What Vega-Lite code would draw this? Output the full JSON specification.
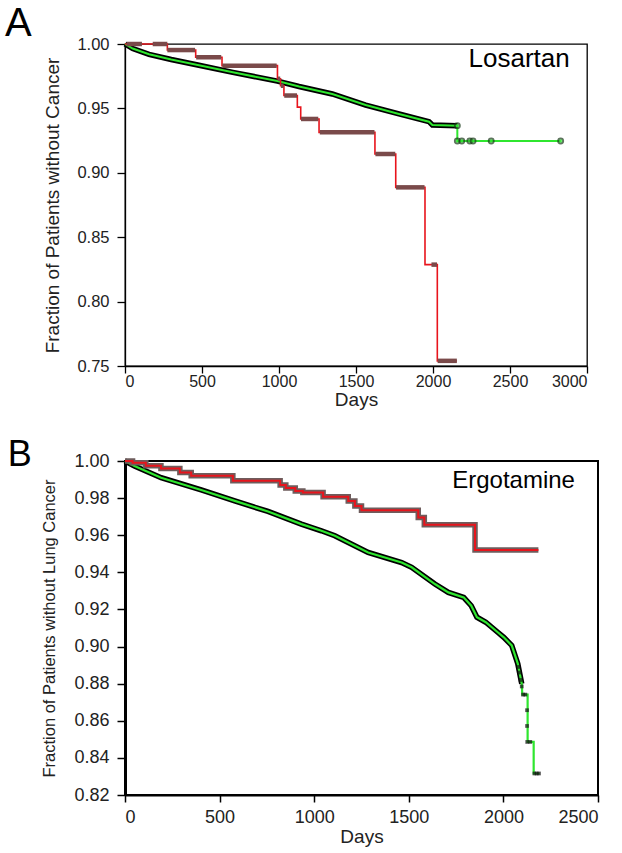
{
  "$schema": "https://vega.github.io/schema/vega-lite/v6.json",
  "background": "white",
  "padding": {"left": 4, "top": 3, "right": 5, "bottom": 5},
  "spacing": 26,
  "config": {
    "font": "Liberation Sans",
    "view": {"stroke": "black", "strokeWidth": 1.3},
    "axis": {"grid": false, "domainColor": "black", "tickColor": "black", "labelColor": "#222222", "titleColor": "#222222", "titleFontWeight": "normal", "labelFont": "Liberation Sans", "titleFont": "Liberation Sans"}
  },
  "datasets": {
    "greenA": [
      {"i": 0, "day": 0, "v": 1.0},
      {"i": 1, "day": 50, "v": 0.9965},
      {"i": 2, "day": 156, "v": 0.992},
      {"i": 3, "day": 300, "v": 0.988},
      {"i": 4, "day": 480, "v": 0.9835},
      {"i": 5, "day": 700, "v": 0.978},
      {"i": 6, "day": 990, "v": 0.9712},
      {"i": 7, "day": 1130, "v": 0.967},
      {"i": 8, "day": 1346, "v": 0.9612},
      {"i": 9, "day": 1563, "v": 0.9526},
      {"i": 10, "day": 1779, "v": 0.9457},
      {"i": 11, "day": 1974, "v": 0.9397},
      {"i": 12, "day": 1996, "v": 0.9371},
      {"i": 13, "day": 2158, "v": 0.9366},
      {"i": 14, "day": 2158, "v": 0.9247},
      {"i": 15, "day": 2829, "v": 0.9247}
    ],
    "greenAcensor": [
      {"day": 2158, "v": 0.9366},
      {"day": 2158, "v": 0.9247},
      {"day": 2187, "v": 0.9247},
      {"day": 2239, "v": 0.9247},
      {"day": 2260, "v": 0.9247},
      {"day": 2378, "v": 0.9247},
      {"day": 2829, "v": 0.9247}
    ],
    "redA": [
      {"day": 0, "v": 1.0},
      {"day": 275, "v": 0.9953},
      {"day": 459, "v": 0.9897},
      {"day": 630, "v": 0.9832},
      {"day": 990, "v": 0.973},
      {"day": 1010, "v": 0.9676},
      {"day": 1032, "v": 0.96},
      {"day": 1119, "v": 0.951},
      {"day": 1141, "v": 0.9418},
      {"day": 1260, "v": 0.9314},
      {"day": 1623, "v": 0.9146},
      {"day": 1758, "v": 0.8887},
      {"day": 1948, "v": 0.8287},
      {"day": 2028, "v": 0.754},
      {"day": 2155, "v": 0.754}
    ],
    "redAcensor": [
      {"d1": 10, "d2": 110, "v": 1.0},
      {"d1": 180, "d2": 275, "v": 1.0},
      {"d1": 275, "d2": 455, "v": 0.9953},
      {"d1": 462, "d2": 625, "v": 0.9897},
      {"d1": 632, "d2": 985, "v": 0.9832},
      {"d1": 992, "d2": 1008, "v": 0.973},
      {"d1": 1012, "d2": 1030, "v": 0.9676},
      {"d1": 1034, "d2": 1117, "v": 0.96},
      {"d1": 1143, "d2": 1255, "v": 0.9418},
      {"d1": 1265, "d2": 1620, "v": 0.9314},
      {"d1": 1626, "d2": 1755, "v": 0.9146},
      {"d1": 1760, "d2": 1945, "v": 0.8887},
      {"d1": 1990, "d2": 2026, "v": 0.8287},
      {"d1": 2030, "d2": 2155, "v": 0.754}
    ],
    "greenB": [
      {"i": 0, "day": 0, "v": 1.0},
      {"i": 1, "day": 50, "v": 0.9973},
      {"i": 2, "day": 191, "v": 0.991},
      {"i": 3, "day": 403, "v": 0.9844},
      {"i": 4, "day": 580, "v": 0.9785},
      {"i": 5, "day": 756, "v": 0.9728},
      {"i": 6, "day": 932, "v": 0.966},
      {"i": 7, "day": 1038, "v": 0.9624},
      {"i": 8, "day": 1109, "v": 0.9597},
      {"i": 9, "day": 1285, "v": 0.9507},
      {"i": 10, "day": 1462, "v": 0.9453},
      {"i": 11, "day": 1515, "v": 0.9427},
      {"i": 12, "day": 1638, "v": 0.9337},
      {"i": 13, "day": 1709, "v": 0.9292},
      {"i": 14, "day": 1790, "v": 0.9265},
      {"i": 15, "day": 1830, "v": 0.922},
      {"i": 16, "day": 1860, "v": 0.9158},
      {"i": 17, "day": 1907, "v": 0.9131},
      {"i": 18, "day": 1970, "v": 0.9077},
      {"i": 19, "day": 2002, "v": 0.905},
      {"i": 20, "day": 2044, "v": 0.9006},
      {"i": 21, "day": 2076, "v": 0.8908},
      {"i": 22, "day": 2097, "v": 0.88},
      {"i": 23, "day": 2100, "v": 0.8741},
      {"i": 24, "day": 2128, "v": 0.8741},
      {"i": 25, "day": 2128, "v": 0.8486},
      {"i": 26, "day": 2160, "v": 0.8486},
      {"i": 27, "day": 2160, "v": 0.8316},
      {"i": 28, "day": 2191, "v": 0.8316}
    ],
    "greenBcensor": [
      {"day": 2080, "v": 0.889},
      {"day": 2086, "v": 0.886},
      {"day": 2091, "v": 0.882},
      {"day": 2097, "v": 0.8785},
      {"day": 2104, "v": 0.8741},
      {"day": 2116, "v": 0.8741},
      {"day": 2125, "v": 0.8657},
      {"day": 2125, "v": 0.8572},
      {"day": 2126, "v": 0.8486},
      {"day": 2142, "v": 0.8486},
      {"day": 2164, "v": 0.8316},
      {"day": 2176, "v": 0.8316},
      {"day": 2188, "v": 0.8316}
    ],
    "redB": [
      {"day": 0, "v": 1.0},
      {"day": 40, "v": 0.9991},
      {"day": 110, "v": 0.9975},
      {"day": 190, "v": 0.996},
      {"day": 290, "v": 0.9938},
      {"day": 350, "v": 0.992},
      {"day": 570, "v": 0.9893},
      {"day": 820, "v": 0.987},
      {"day": 850, "v": 0.9855},
      {"day": 900, "v": 0.9838},
      {"day": 940, "v": 0.983},
      {"day": 1047, "v": 0.9807},
      {"day": 1180, "v": 0.9785},
      {"day": 1215, "v": 0.9758},
      {"day": 1250, "v": 0.9735},
      {"day": 1550, "v": 0.9695},
      {"day": 1582, "v": 0.9656},
      {"day": 1850, "v": 0.952},
      {"day": 2185, "v": 0.952}
    ]
  },
  "vconcat": [
    {
      "width": 462,
      "height": 322,
      "encoding": {
        "x": {"type": "quantitative", "scale": {"domain": [0, 3000], "nice": false}, "axis": {"title": "Days", "values": [0, 500, 1000, 1500, 2000, 2500, 3000], "format": "d", "labelFontSize": 16, "titleFontSize": 19, "tickSize": 7, "domainWidth": 1.3, "tickWidth": 1.3, "labelPadding": 0, "titlePadding": 1}},
        "y": {"type": "quantitative", "scale": {"domain": [0.75, 1.0], "nice": false, "zero": false}, "axis": {"title": "Fraction of Patients without Cancer", "values": [0.75, 0.8, 0.85, 0.9, 0.95, 1.0], "format": ".2f", "labelFontSize": 16.5, "titleFontSize": 19, "tickSize": 8, "domainWidth": 1.3, "tickWidth": 1.3, "labelPadding": 8, "titlePadding": 14}}
      },
      "layer": [
        {"data": {"name": "greenA"}, "transform": [{"filter": "datum.v > 0.93"}], "mark": {"type": "line", "color": "black", "strokeWidth": 5.5, "interpolate": "linear"}, "encoding": {"x": {"field": "day"}, "y": {"field": "v"}, "order": {"field": "i"}}},
        {"data": {"name": "greenA"}, "mark": {"type": "line", "color": "#2fe62f", "strokeWidth": 2, "interpolate": "linear"}, "encoding": {"x": {"field": "day"}, "y": {"field": "v"}, "order": {"field": "i"}}},
        {"data": {"name": "redA"}, "mark": {"type": "line", "color": "#e8141c", "strokeWidth": 1.6, "interpolate": "step-after"}, "encoding": {"x": {"field": "day"}, "y": {"field": "v"}}},
        {"data": {"name": "redAcensor"}, "mark": {"type": "rule", "color": "#7a4a4a", "strokeWidth": 4.5}, "encoding": {"x": {"field": "d1"}, "x2": {"field": "d2"}, "y": {"field": "v"}}},
        {"data": {"name": "greenAcensor"}, "mark": {"type": "point", "shape": "circle", "filled": true, "color": "#2fe62f", "stroke": "#1a3a1a", "strokeWidth": 1.8, "size": 26}, "encoding": {"x": {"field": "day"}, "y": {"field": "v"}}},
        {"data": {"values": [{}]}, "mark": {"type": "text", "text": "Losartan", "fontSize": 26, "align": "right", "baseline": "alphabetic", "color": "black"}, "encoding": {"x": {"datum": 2888}, "y": {"datum": 0.9821}}},
        {"data": {"values": [{}]}, "mark": {"type": "text", "text": "A", "fontSize": 40, "align": "left", "baseline": "alphabetic", "color": "black"}, "encoding": {"x": {"datum": -779}, "y": {"datum": 1.0062}}}
      ]
    },
    {
      "width": 473,
      "height": 334,
      "view": {"stroke": "black", "strokeWidth": 2},
      "encoding": {
        "x": {"type": "quantitative", "scale": {"domain": [0, 2500], "nice": false}, "axis": {"title": "Days", "values": [0, 500, 1000, 1500, 2000, 2500], "format": "d", "labelFontSize": 18, "titleFontSize": 19, "tickSize": 7, "domainWidth": 2, "tickWidth": 1.5, "labelPadding": 6, "titlePadding": 1}},
        "y": {"type": "quantitative", "scale": {"domain": [0.82, 1.0], "nice": false, "zero": false}, "axis": {"title": "Fraction of Patients without Lung Cancer", "values": [0.82, 0.84, 0.86, 0.88, 0.9, 0.92, 0.94, 0.96, 0.98, 1.0], "format": ".2f", "labelFontSize": 18, "titleFontSize": 16.5, "tickSize": 8, "domainWidth": 3, "tickWidth": 1.5, "labelPadding": 8, "titlePadding": 16}}
      },
      "layer": [
        {"data": {"name": "greenB"}, "transform": [{"filter": "datum.v > 0.878"}], "mark": {"type": "line", "color": "black", "strokeWidth": 5.5, "interpolate": "linear"}, "encoding": {"x": {"field": "day"}, "y": {"field": "v"}, "order": {"field": "i"}}},
        {"data": {"name": "greenB"}, "mark": {"type": "line", "color": "#2fe62f", "strokeWidth": 2.2, "interpolate": "linear"}, "encoding": {"x": {"field": "day"}, "y": {"field": "v"}, "order": {"field": "i"}}},
        {"data": {"name": "greenBcensor"}, "mark": {"type": "square", "filled": true, "color": "#111111", "size": 14}, "encoding": {"x": {"field": "day"}, "y": {"field": "v"}}},
        {"data": {"name": "redB"}, "mark": {"type": "line", "color": "#6e5c5c", "strokeWidth": 5.5, "interpolate": "step-after"}, "encoding": {"x": {"field": "day"}, "y": {"field": "v"}}},
        {"data": {"name": "redB"}, "mark": {"type": "line", "color": "#e8141c", "strokeWidth": 2, "interpolate": "step-after"}, "encoding": {"x": {"field": "day"}, "y": {"field": "v"}}},
        {"data": {"values": [{}]}, "mark": {"type": "text", "text": "Ergotamine", "fontSize": 24, "align": "right", "baseline": "alphabetic", "color": "black"}, "encoding": {"x": {"datum": 2378}, "y": {"datum": 0.98565}}},
        {"data": {"values": [{}]}, "mark": {"type": "text", "text": "B", "fontSize": 36, "align": "left", "baseline": "alphabetic", "color": "black"}, "encoding": {"x": {"datum": -620}, "y": {"datum": 0.9973}}}
      ]
    }
  ]
}
